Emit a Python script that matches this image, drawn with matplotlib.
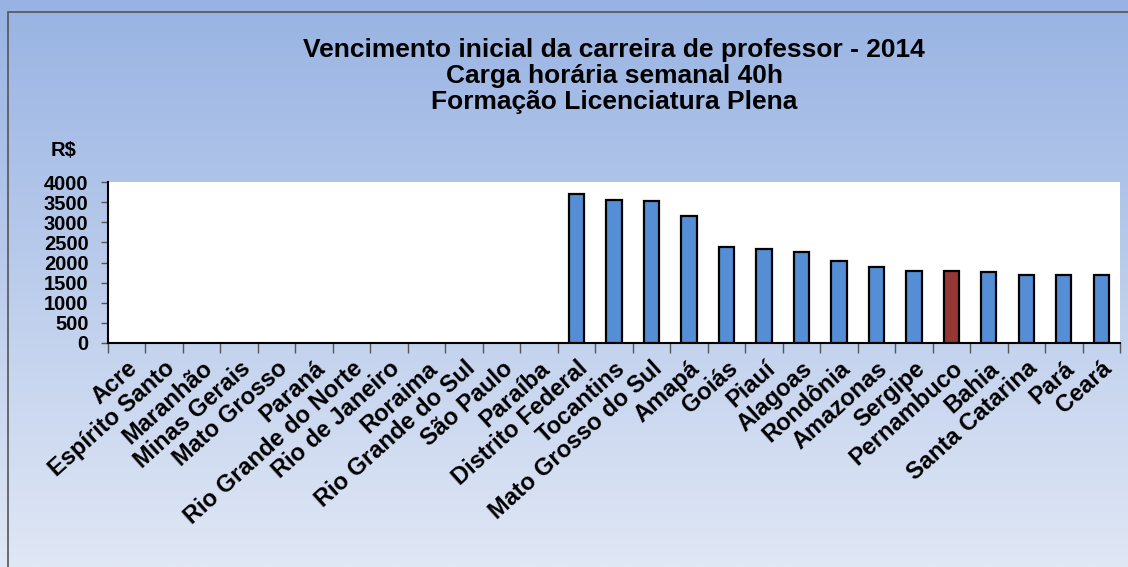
import numpy as np
import matplotlib
matplotlib.use('Agg')
import matplotlib.pyplot as plt
from matplotlib.patches import Rectangle

plt.rcParams['font.family'] = ['Liberation Sans', 'DejaVu Sans']
plt.rcParams['font.weight'] = 'bold'

# Dados: estados (ordem do grafico) e vencimento inicial em R$ (None = sem dado)
estados = ['Acre', 'Espírito Santo', 'Maranhão', 'Minas Gerais', 'Mato Grosso',
           'Paraná', 'Rio Grande do Norte', 'Rio de Janeiro', 'Roraima',
           'Rio Grande do Sul', 'São Paulo', 'Paraíba', 'Distrito Federal',
           'Tocantins', 'Mato Grosso do Sul', 'Amapá', 'Goiás', 'Piauí',
           'Alagoas', 'Rondônia', 'Amazonas', 'Sergipe', 'Pernambuco', 'Bahia',
           'Santa Catarina', 'Pará', 'Ceará']
vencimento = [None, None, None, None, None, None, None, None, None, None, None, None,
              3695, 3552, 3535, 3154, 2375, 2340, 2250, 2026, 1877, 1793, 1785,
              1768, 1697, 1697, 1697]
destaque = 'Pernambuco'

cor_barra = '#558ED5'
cor_destaque = '#953735'

fig = plt.figure(figsize=(11.28, 5.67), dpi=100)

# fundo em degrade
bg = fig.add_axes([0, 0, 1, 1], zorder=-10)
grad = np.linspace(0, 1, 256).reshape(-1, 1)
top = np.array([152, 179, 227]) / 255
bot = np.array([224, 231, 245]) / 255
img = top + (bot - top) * grad[:, :, None]
bg.imshow(img, aspect='auto', extent=[0, 1, 0, 1])
bg.set_xlim(0, 1)
bg.set_ylim(0, 1)
bg.axis('off')
fig.patches.append(Rectangle((8 / 1128, -0.01), 1.1, 1 - 12 / 567 + 0.01,
                             transform=fig.transFigure, fill=False,
                             edgecolor='#555555', linewidth=1.2, zorder=5))

ax = fig.add_axes([108 / 1128, 1 - 343 / 567, (1120 - 108) / 1128, (343 - 182) / 567])
ax.set_facecolor('white')

x = np.arange(len(estados))
idx = [i for i, v in enumerate(vencimento) if v is not None]
alturas = [vencimento[i] for i in idx]
cores = [cor_destaque if estados[i] == destaque else cor_barra for i in idx]
ax.bar(idx, alturas, width=0.41, color=cores, edgecolor='black', linewidth=1.6, zorder=3)

ax.set_xlim(-0.5, len(estados) - 0.5)
ax.set_ylim(0, 4000)
ax.set_yticks(np.arange(0, 4001, 500))
ax.tick_params(axis='y', labelsize=14.5, length=5, width=1, color='#555555', pad=9)

ax.set_xticks(np.arange(len(estados) + 1) - 0.5)
ax.set_xticklabels([])
ax.set_xticks(x, minor=True)
ax.set_xticklabels(estados, minor=True, rotation=42, ha='right', va='top',
                   rotation_mode='anchor', fontsize=17, fontweight='bold')
ax.tick_params(axis='x', which='major', length=7, width=1, color='#555555')
ax.tick_params(axis='x', which='minor', length=0, pad=10)

for s in ['top', 'right']:
    ax.spines[s].set_visible(False)
ax.spines['left'].set_linewidth(1.5)
ax.spines['bottom'].set_linewidth(1.5)

fig.text(614 / 1128, 1 - 76 / 567,
         'Vencimento inicial da carreira de professor - 2014\n'
         'Carga horária semanal 40h\nFormação Licenciatura Plena',
         ha='center', va='center', fontsize=19, fontweight='bold',
         linespacing=1.1)
fig.text(64 / 1128, 1 - 150 / 567, 'R$', ha='center', va='center',
         fontsize=14.5, fontweight='bold')

fig.savefig('out.png', dpi=100)
